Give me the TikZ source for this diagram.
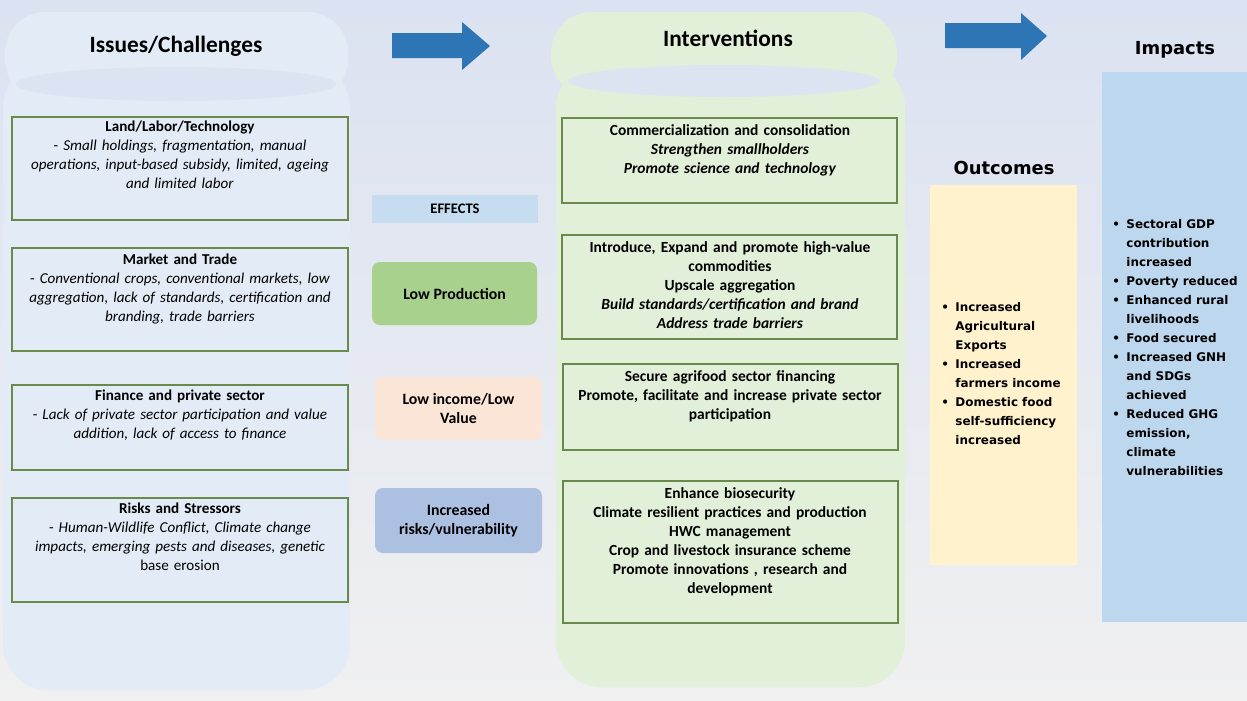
\documentclass[tikz,border=0pt]{standalone}
\usepackage{fontspec}
\setmainfont{Carlito}
\newfontfamily\djv{DejaVu Sans}
\usetikzlibrary{fit}
\definecolor{bgtop}{HTML}{DBE2F1}
\definecolor{bgbot}{HTML}{F0F0F1}
\definecolor{leftcol}{HTML}{E3EBF6}
\definecolor{leftlens}{HTML}{DCE3F2}
\definecolor{midcol}{HTML}{E2EFD9}
\definecolor{midlens}{HTML}{DDE4F1}
\definecolor{boxline}{HTML}{6A8A4C}
\definecolor{effblue}{HTML}{C6DDF1}
\definecolor{effgreen}{HTML}{A9D18E}
\definecolor{effpeach}{HTML}{FBE5D6}
\definecolor{effvio}{HTML}{ACC0E2}
\definecolor{outyel}{HTML}{FFF2CC}
\definecolor{impblue}{HTML}{BDD7EE}
\definecolor{arrowblue}{HTML}{2E75B6}
\tikzset{
  ibox/.style={draw=boxline, line width=0.8pt, inner sep=0pt},
  fillbox/.style={inner sep=0pt},
  boxtxt/.style={anchor=north, inner sep=0pt, text width=6.7cm, align=center,
    font=\fontsize{8.6}{10.8}\selectfont},
  midtxt/.style={anchor=north, inner sep=0pt, text width=6.7cm, align=center,
    font=\fontsize{8.8}{10.8}\selectfont\bfseries},
  efftxt/.style={align=center, font=\fontsize{9}{11}\selectfont\bfseries},
  colhead/.style={font=\fontsize{13.3}{15}\selectfont\bfseries},
  sidehead/.style={font=\djv\fontsize{10.2}{12}\selectfont\bfseries},
  bullets/.style={anchor=north west, inner sep=0pt, align=left,
    font=\djv\fontsize{6.8}{10.8}\selectfont\bfseries},
  bigarrow/.style={fill=arrowblue}
}
\newcommand{\bl}{\makebox[8pt][l]{\textbullet}}
\newcommand{\ct}{\hspace*{8pt}}
\begin{document}
\begin{tikzpicture}[x=0.02cm,y=-0.02cm]
\useasboundingbox (0,0) rectangle (1247,700);
% background
\shade[top color=bgtop, bottom color=bgbot] (0,0) rectangle (1247,700);

% left column
\fill[leftcol, rounded corners=26pt] (3,62) rectangle (350,690);
\fill[leftcol, rounded corners=23pt] (5,12) rectangle (348,100);
\fill[leftlens] (176,84) ellipse (160 and 17);
\node[colhead] (hIssues) at (176,46) {Issues/Challenges};

% middle column
\fill[midcol, rounded corners=26pt] (556,62) rectangle (905,687);
\fill[midcol, rounded corners=23pt] (551,12) rectangle (897,97);
\fill[midlens] (724,81) ellipse (156 and 16);
\node[colhead] (hInterv) at (728,38) {Interventions};

% arrows
\fill[bigarrow] (392,33) -- (462,33) -- (462,22) -- (490,46) -- (462,70) -- (462,58) -- (392,58) -- cycle;
\fill[bigarrow] (945,23) -- (1021,23) -- (1021,13) -- (1047,36) -- (1021,60) -- (1021,48) -- (945,48) -- cycle;

% left boxes
\node[ibox, fit={(12,117)(348,220)}] (L1) {};
\node[boxtxt] (L1t) at (180,121) {\textbf{Land/Labor/Technology}\\
- \textit{Small holdings, fragmentation, manual}\\
\textit{operations, input-based subsidy, limited, ageing}\\
\textit{and limited labor}};
\node[ibox, fit={(12,248)(348,351)}] (L2) {};
\node[boxtxt] (L2t) at (180,254) {\textbf{Market and Trade}\\
- \textit{Conventional crops, conventional markets, low}\\
\textit{aggregation, lack of standards, certification and}\\
\textit{branding, trade barriers}};
\node[ibox, fit={(12,385)(348,470)}] (L3) {};
\node[boxtxt] (L3t) at (180,390) {\textbf{Finance and private sector}\\
- \textit{Lack of private sector participation and value}\\
\textit{addition, lack of access to finance}};
\node[ibox, fit={(12,498)(348,602)}] (L4) {};
\node[boxtxt] (L4t) at (180,503) {\textbf{Risks and Stressors}\\
- \textit{Human-Wildlife Conflict, Climate change}\\
\textit{impacts, emerging pests and diseases, genetic}\\
base erosion};

% effects
\node[fillbox, fit={(372,195)(538,223)}, fill=effblue] (E0) {};
\node[font=\fontsize{8.3}{10}\selectfont\bfseries] (E0t) at (E0.center) {EFFECTS};
\node[fillbox, fit={(372,262)(537,325)}, fill=effgreen, rounded corners=4.5pt] (E1) {};
\node[efftxt] (E1t) at (E1.center) {Low Production};
\node[fillbox, fit={(375,377)(542,440)}, fill=effpeach, rounded corners=4.5pt] (E2) {};
\node[efftxt] (E2t) at (E2.center) {Low income/Low\\Value};
\node[fillbox, fit={(375,488)(542,553)}, fill=effvio, rounded corners=4.5pt] (E3) {};
\node[efftxt] (E3t) at (E3.center) {Increased\\risks/vulnerability};

% intervention boxes
\node[ibox, fit={(562,118)(897,203)}] (M1) {};
\node[midtxt] (M1t) at (730,124) {Commercialization and consolidation\\
\textit{Strengthen smallholders}\\
\textit{Promote science and technology}};
\node[ibox, fit={(562,235)(897,339)}] (M2) {};
\node[midtxt] (M2t) at (730,241) {Introduce, Expand and promote high-value\\
commodities\\
Upscale aggregation\\
\textit{Build standards/certification and brand}\\
\textit{Address trade barriers}};
\node[ibox, fit={(563,364)(898,450)}] (M3) {};
\node[midtxt] (M3t) at (730,370) {Secure agrifood sector financing\\
Promote, facilitate and increase private sector\\
participation};
\node[ibox, fit={(563,481)(898,623)}] (M4) {};
\node[midtxt] (M4t) at (730,487) {Enhance biosecurity\\
Climate resilient practices and production\\
HWC management\\
Crop and livestock insurance scheme\\
Promote innovations , research and\\
development};

% outcomes
\node[sidehead] (hOut) at (1004,168) {Outcomes};
\node[fillbox, fit={(930,185)(1077,565)}, fill=outyel] (O) {};
\node[bullets] (Ot) at (941,302) {\bl Increased\\
\ct Agricultural\\
\ct Exports\\
\bl Increased\\
\ct farmers income\\
\bl Domestic food\\
\ct self-sufficiency\\
\ct increased};

% impacts
\node[sidehead] (hImp) at (1175,50) {Impacts};
\node[fillbox, fit={(1102,72)(1247,622)}, fill=impblue] (I) {};
\node[bullets] (It) at (1112,219) {\bl Sectoral GDP\\
\ct contribution\\
\ct increased\\
\bl Poverty reduced\\
\bl Enhanced rural\\
\ct livelihoods\\
\bl Food secured\\
\bl Increased GNH\\
\ct and SDGs\\
\ct achieved\\
\bl Reduced GHG\\
\ct emission,\\
\ct climate\\
\ct vulnerabilities};
\end{tikzpicture}
\end{document}
